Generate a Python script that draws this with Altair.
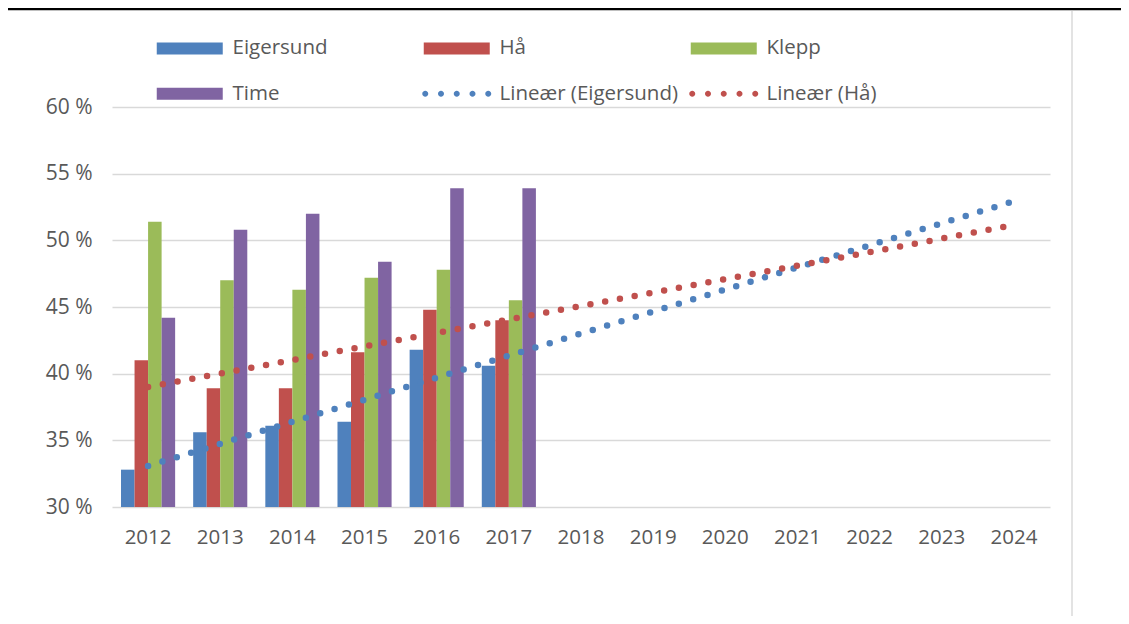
import altair as alt
import pandas as pd

years = [2012, 2013, 2014, 2015, 2016, 2017, 2018, 2019, 2020, 2021, 2022, 2023, 2024]
data_years = [2012, 2013, 2014, 2015, 2016, 2017]
series_names = ["Eigersund", "Hå", "Klepp", "Time"]
eigersund = [32.8, 35.6, 36.1, 36.4, 41.8, 40.6]
haa = [41.0, 38.9, 38.9, 41.6, 44.8, 44.0]
klepp = [51.4, 47.0, 46.3, 47.2, 47.8, 45.5]
time_ = [44.2, 50.8, 52.0, 48.4, 53.9, 53.9]
trend_series = ["Eigersund", "Hå"]
trend_names = ["Lineær (Eigersund)", "Lineær (Hå)"]
y_ticks = [30, 35, 40, 45, 50, 55, 60]

colors = ["#4F81BD", "#C0504D", "#9BBB59", "#8064A2"]
trend_colors = ["#4F81BD", "#C0504D"]
FONT = "Open Sans"
TXT = "#595959"

rows = []
for name, vals in zip(series_names, [eigersund, haa, klepp, time_]):
    for yr, v in zip(data_years, vals):
        rows.append({"year": yr, "series": name, "value": v})
df = pd.DataFrame(rows)

legend_domain = series_names + trend_names
legend_range = colors + trend_colors

bar_symbol = "M-6.6,-1.2L6.6,-1.2L6.6,1.2L-6.6,1.2Z"
dot_parts = []
for cx in [-6.3, -3.15, 0.0, 3.15, 6.3]:
    r = 0.6
    dot_parts.append(f"M{cx - r},0A{r},{r} 0 1,0 {cx + r},0A{r},{r} 0 1,0 {cx - r},0Z")
dot_symbol = "".join(dot_parts)

x_enc = alt.X(
    "year:O",
    scale=alt.Scale(domain=years, paddingInner=0.25, paddingOuter=0.125),
    axis=alt.Axis(title=None, labelAngle=0, labelFont=FONT, labelFontSize=20.5,
                  labelColor=TXT, ticks=False, domain=False, grid=False,
                  labelPadding=20),
)
y_scale = alt.Scale(domain=[30, 60], zero=False, nice=False)

legend = alt.Legend(
    title=None, orient="none", legendX=67.5, legendY=-69,
    direction="horizontal", columns=3, gridAlign="all",
    symbolType={"expr": f"indexof(datum.value, 'Lin') === 0 ? '{dot_symbol}' : '{bar_symbol}'"},
    symbolFillColor={"expr": "scale('color', datum.value)"},
    symbolSize=100, symbolStrokeWidth=0, symbolOpacity=1,
    labelOffset=32.5, columnPadding=10, rowPadding=24.5, labelLimit=400,
    labelFont=FONT, labelFontSize=20.5, labelColor=TXT,
    padding=0, offset=0,
)

bars = alt.Chart(df).mark_bar().encode(
    x=x_enc,
    xOffset=alt.XOffset("series:N", sort=series_names),
    y=alt.Y("value:Q", scale=y_scale,
            axis=alt.Axis(title=None, values=y_ticks, labelExpr="datum.value + ' %'",
                          labelFont=FONT, labelFontSize=21, labelColor=TXT,
                          ticks=False, domain=False, gridColor="#D9D9D9",
                          gridWidth=1.5, labelPadding=20)),
    y2=alt.datum(30),
    color=alt.Color("series:N", scale=alt.Scale(domain=legend_domain, range=legend_range),
                    legend=legend),
)

trend_lines = alt.Chart(df).transform_filter(
    alt.FieldOneOfPredicate(field="series", oneOf=trend_series)
).transform_regression(
    "year", "value", groupby=["series"], extent=[years[0], years[-1]]
).transform_calculate(
    trend="'Lineær (' + datum.series + ')'"
).mark_line(
    strokeDash=[0, 15], strokeCap="round", strokeWidth=6.5
).encode(
    x=alt.X("year:O"),
    y=alt.Y("value:Q", scale=y_scale),
    color=alt.Color("trend:N"),
    detail="trend:N",
)

frame_top = alt.Chart(alt.Data(values=[{}])).mark_rule(color="#000000", strokeWidth=2.5).encode(
    x=alt.value(-104), x2=alt.value(1009), y=alt.value(-98)
)
frame_right = alt.Chart(alt.Data(values=[{}])).mark_rule(color="#E3E3E3", strokeWidth=2).encode(
    x=alt.value(960), y=alt.value(-96), y2=alt.value(509)
)

chart = alt.layer(bars, trend_lines, frame_top, frame_right).properties(
    width=938, height=400,
    autosize=alt.AutoSizeParams(type="none"),
    padding={"left": 104, "top": 99, "right": 71, "bottom": 109},
    background="white",
).configure_view(stroke=None)

chart.save("out.html", embed_options={"renderer": "svg", "actions": False})
